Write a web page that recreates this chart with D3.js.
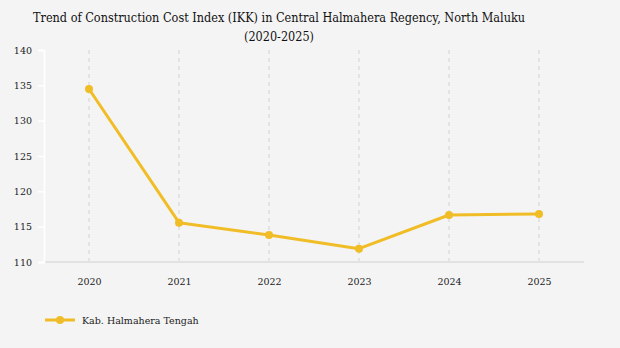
<!DOCTYPE html>
<html>
<head>
<meta charset="utf-8">
<script src="https://cdn.jsdelivr.net/npm/d3@7"></script>
<style>
  body { margin: 0; background: #f4f4f4; }
</style>
</head>
<body>
<div id="chart"></div>
<script>
var years = ["2020", "2021", "2022", "2023", "2024", "2025"];
var ikk = [134.48, 115.56, 113.82, 111.88, 116.65, 116.79];
var yTicks = [110, 115, 120, 125, 130, 135, 140];
var seriesName = "Kab. Halmahera Tengah";

var W = 620, H = 348;
var margin = { top: 50, right: 36, bottom: 86, left: 44 },
    width = W - margin.left - margin.right,
    height = H - margin.top - margin.bottom;

var lineColor = "#f1bd27";
var serif = "'DejaVu Serif', serif";

var svg = d3.select("#chart").append("svg")
    .attr("width", W)
    .attr("height", H)
    .style("display", "block");

svg.append("rect").attr("width", W).attr("height", H).attr("fill", "#f4f4f4");

// two-line title
var title = svg.append("text")
    .attr("text-anchor", "middle")
    .attr("font-family", serif)
    .attr("font-size", 12.8)
    .attr("fill", "#111");
title.append("tspan").attr("x", 279).attr("y", 22)
    .attr("textLength", 492).attr("lengthAdjust", "spacingAndGlyphs")
    .text("Trend of Construction Cost Index (IKK) in Central Halmahera Regency, North Maluku");
title.append("tspan").attr("x", 279).attr("y", 41)
    .attr("textLength", 70).attr("lengthAdjust", "spacingAndGlyphs")
    .text("(2020-2025)");

var g = svg.append("g")
    .attr("transform", "translate(" + margin.left + "," + margin.top + ")");

var x = d3.scalePoint()
    .domain(years)
    .range([0, width])
    .padding(0.5);

var y = d3.scaleLinear()
    .domain([110, 140])
    .range([height, 0]);

// vertical dashed grid
g.selectAll(".vgrid")
    .data(years)
    .enter().append("line")
    .attr("class", "vgrid")
    .attr("x1", function (d) { return x(d); })
    .attr("x2", function (d) { return x(d); })
    .attr("y1", 0)
    .attr("y2", height)
    .attr("stroke", "#dddddd")
    .attr("stroke-width", 1.5)
    .attr("stroke-dasharray", "4,4");

// baseline
g.append("line")
    .attr("x1", 0).attr("x2", width)
    .attr("y1", height).attr("y2", height)
    .attr("stroke", "#e2e2e2")
    .attr("stroke-width", 2);

// y axis
var yAxis = d3.axisLeft(y).tickValues(yTicks).tickSize(6).tickPadding(6);
var ya = g.append("g").call(yAxis).attr("font-family", serif);
ya.select(".domain").attr("stroke", "#ffffff").attr("stroke-width", 1.5);
ya.selectAll(".tick line").attr("stroke", "#ffffff").attr("stroke-width", 1.5);
ya.selectAll(".tick text")
    .attr("font-size", 9.5)
    .attr("fill", "#222");

// x axis labels
var xAxis = d3.axisBottom(x).tickSize(0).tickPadding(16);
var xa = g.append("g").attr("transform", "translate(0," + height + ")").call(xAxis)
    .attr("font-family", serif);
xa.select(".domain").remove();
xa.selectAll(".tick text")
    .attr("font-size", 9.5)
    .attr("fill", "#222");

// line + points
var line = d3.line()
    .x(function (d, i) { return x(years[i]); })
    .y(function (d) { return y(d); });

g.append("path")
    .datum(ikk)
    .attr("d", line)
    .attr("fill", "none")
    .attr("stroke", lineColor)
    .attr("stroke-width", 3)
    .attr("stroke-linejoin", "round");

g.selectAll(".pt")
    .data(ikk)
    .enter().append("circle")
    .attr("class", "pt")
    .attr("cx", function (d, i) { return x(years[i]); })
    .attr("cy", function (d) { return y(d); })
    .attr("r", 4)
    .attr("fill", lineColor);

// legend
var legend = svg.append("g").attr("transform", "translate(45,320)");
legend.append("line")
    .attr("x1", 0).attr("x2", 30)
    .attr("stroke", lineColor).attr("stroke-width", 3);
legend.append("circle").attr("cx", 15).attr("r", 4).attr("fill", lineColor);
legend.append("text")
    .attr("x", 37).attr("y", 4)
    .attr("font-family", serif)
    .attr("font-size", 9.5)
    .attr("fill", "#222")
    .text(seriesName);
</script>
</body>
</html>
